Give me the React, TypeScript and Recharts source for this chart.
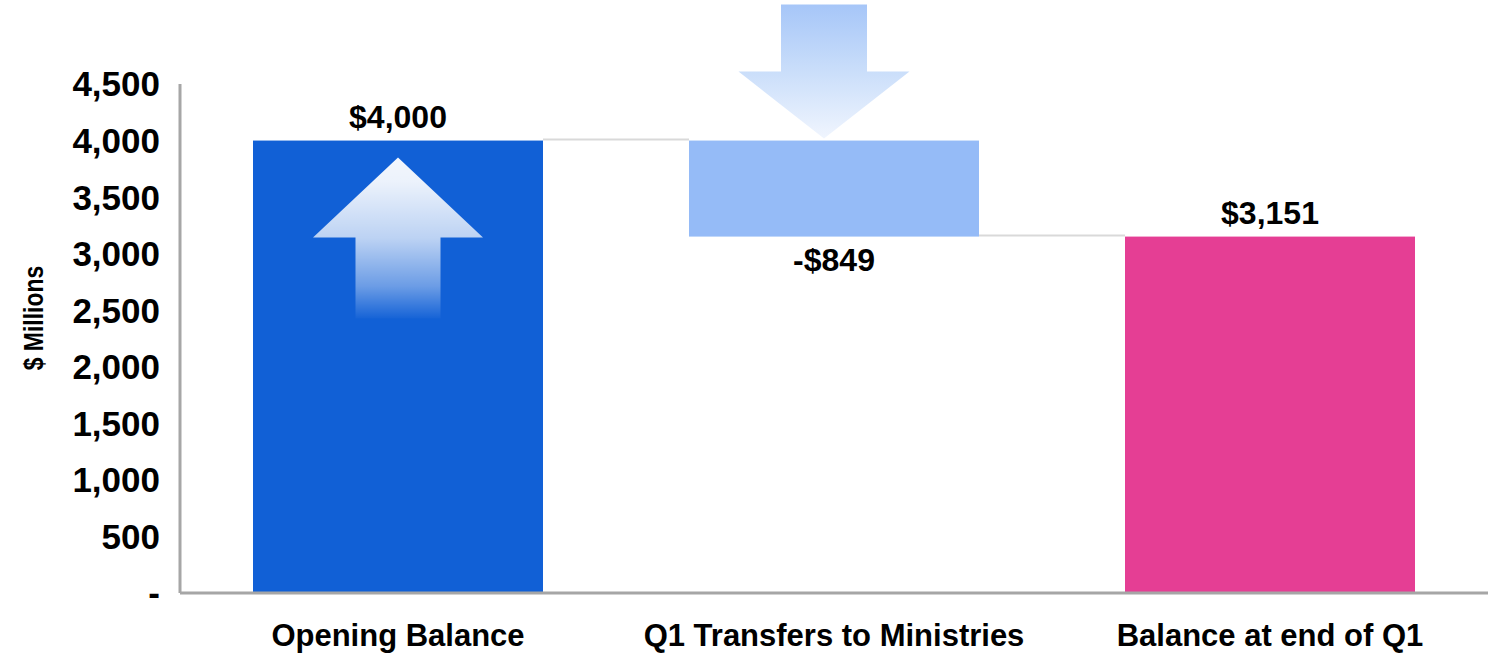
import React from 'react';
import { BarChart, Bar, XAxis, YAxis, LabelList } from 'recharts';

// ---- data ----
const categories = ['Opening Balance', 'Q1 Transfers to Ministries', 'Balance at end of Q1'];
const changes = [4000, -849, 3151];
const kinds = ['total', 'delta', 'total'];
const valueLabels = ['$4,000', '-$849', '$3,151'];
const yTicks = [0, 500, 1000, 1500, 2000, 2500, 3000, 3500, 4000, 4500];
const barColors = ['#1160d6', '#95bbf7', '#e53e94'];

// build waterfall table
let running = 0;
const data = categories.map((name, i) => {
  const ch = changes[i];
  let base = 0;
  let value = 0;
  if (kinds[i] === 'total') {
    base = 0;
    value = ch;
    running = ch;
  } else {
    const next = running + ch;
    base = Math.min(running, next);
    value = Math.abs(ch);
    running = next;
  }
  return { name, base, value, label: valueLabels[i] };
});

const FONT = '"Liberation Sans", Arial, Helvetica, sans-serif';
const CHART_W = 1489;
const CHART_H = 658;
const Y_AXIS_W = 180;
const MARGIN = { top: 84, right: 1, bottom: 0, left: 0 };
const PLOT_W = CHART_W - Y_AXIS_W - MARGIN.left - MARGIN.right;
const BAR_SIZE = 290;

const WaterfallShape = (props: any) => {
  const { x, y, width, height, index } = props;
  const fill = barColors[index % barColors.length];
  const band = PLOT_W / categories.length;
  const gap = band - width;
  const cx = x + width / 2;
  const els: any[] = [];

  // connectors
  if (index < categories.length - 1) {
    const isDelta = kinds[index] === 'delta';
    const ly = isDelta ? y + height - 1 : y - 1;
    els.push(
      <line key="conn" x1={x + width} x2={x + width + gap} y1={ly} y2={ly} stroke="#d9d9d9" strokeWidth={2} />
    );
  }

  els.push(<rect key="r" x={x} y={y} width={width} height={height} fill={fill} />);

  if (index === 0) {
    // up arrow inside first bar
    const tip = y + 17;
    const headBase = y + 97;
    const bottom = y + 178;
    const hw = 85;
    const sw = 42.5;
    els.push(
      <defs key="d0">
        <linearGradient id="upGrad" x1="0" y1="0" x2="0" y2="1">
          <stop offset="0" stopColor="#ffffff" stopOpacity={0.95} />
          <stop offset="0.15" stopColor="#ffffff" stopOpacity={0.92} />
          <stop offset="0.5" stopColor="#ffffff" stopOpacity={0.72} />
          <stop offset="0.8" stopColor="#ffffff" stopOpacity={0.38} />
          <stop offset="1" stopColor="#ffffff" stopOpacity={0.02} />
        </linearGradient>
      </defs>
    );
    els.push(
      <path
        key="up"
        d={`M${cx},${tip} L${cx + hw},${headBase} L${cx + sw},${headBase} L${cx + sw},${bottom} L${cx - sw},${bottom} L${cx - sw},${headBase} L${cx - hw},${headBase} Z`}
        fill="url(#upGrad)"
      />
    );
  }

  if (kinds[index] === 'delta') {
    // down arrow above the delta bar (slightly left of centre, as in the source)
    const ax = cx - 10;
    const tip = y - 2;
    const headBase = y - 69;
    const top = y - 136;
    const hw = 85.5;
    const sw = 43;
    els.push(
      <defs key="d1">
        <linearGradient id="downGrad" x1="0" y1="0" x2="0" y2="1">
          <stop offset="0" stopColor="#a6c6f8" />
          <stop offset="0.5" stopColor="#cadefa" />
          <stop offset="1" stopColor="#f0f5fe" />
        </linearGradient>
      </defs>
    );
    els.push(
      <path
        key="down"
        d={`M${ax},${tip} L${ax + hw},${headBase} L${ax + sw},${headBase} L${ax + sw},${top} L${ax - sw},${top} L${ax - sw},${headBase} L${ax - hw},${headBase} Z`}
        fill="url(#downGrad)"
      />
    );
  }
  return <g>{els}</g>;
};

const ValueLabel = (props: any) => {
  const { x, y, width, height, index } = props;
  const cx = x + width / 2;
  const below = kinds[index] === 'delta';
  const ty = below ? y + height + 34 : y - 13;
  return (
    <text x={cx} y={ty} textAnchor="middle" fontFamily={FONT} fontWeight={700} fontSize={32} fill="#000">
      {valueLabels[index]}
    </text>
  );
};

const XTick = (props: any) => {
  const { x, y, payload } = props;
  return (
    <text x={x} y={y + 53} textAnchor="middle" fontFamily={FONT} fontWeight={700} fontSize={31} fill="#000">
      {payload.value}
    </text>
  );
};

const YTitle = () => (
  <text
    transform="translate(43,318) rotate(-90) scale(0.85,1)"
    textAnchor="middle"
    fontFamily={FONT}
    fontWeight={700}
    fontSize={27}
    fill="#000"
  >
    $ Millions
  </text>
);

export default function App() {
  return (
    <div style={{ position: 'absolute', left: 0, top: 0, background: '#fff' }}>
      <BarChart width={CHART_W} height={CHART_H} data={data} margin={MARGIN} barSize={BAR_SIZE}>
        <XAxis
          dataKey="name"
          height={65}
          interval={0}
          tickLine={false}
          tickSize={0}
          tickMargin={0}
          axisLine={{ stroke: '#a6a6a6', strokeWidth: 3 }}
          tick={<XTick />}
        />
        <YAxis
          width={Y_AXIS_W}
          domain={[0, 4500]}
          ticks={yTicks}
          interval={0}
          tickLine={false}
          tickSize={0}
          tickMargin={20}
          axisLine={{ stroke: '#a6a6a6', strokeWidth: 3 }}
          tickFormatter={(v: number) => (v === 0 ? '-' : v.toLocaleString('en-US'))}
          tick={{ fill: '#000', fontSize: 35, fontWeight: 700, fontFamily: FONT }}
          label={{ content: () => <YTitle /> }}
        />
        <Bar dataKey="base" stackId="w" fill="transparent" isAnimationActive={false} />
        <Bar dataKey="value" stackId="w" shape={<WaterfallShape />} isAnimationActive={false}>
          <LabelList dataKey="label" content={<ValueLabel />} />
        </Bar>
      </BarChart>
    </div>
  );
}
